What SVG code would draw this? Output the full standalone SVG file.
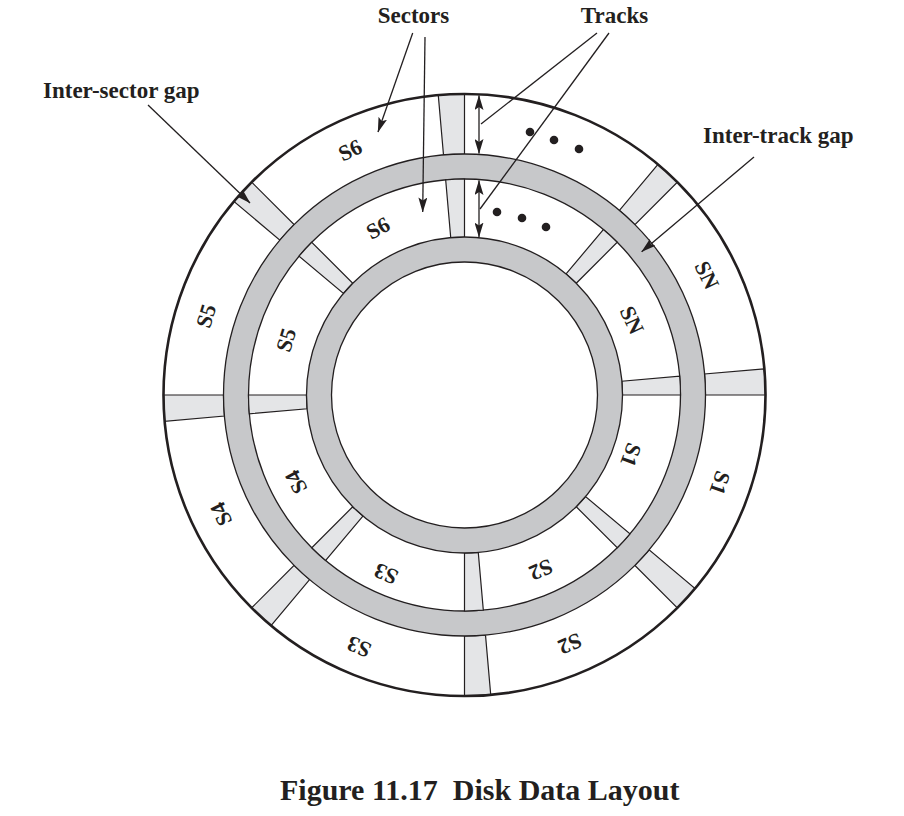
<svg xmlns="http://www.w3.org/2000/svg" width="904" height="816" viewBox="0 0 904 816">
<style>
.ln{stroke:#231f20;stroke-width:1.3;fill:none}
.gap{fill:#e4e5e7;stroke:#231f20;stroke-width:1.2}
.band{fill:none;stroke:#c7c8ca;stroke-width:25}
.edge{fill:none;stroke:#231f20;stroke-width:1.3}
.lbl{font-family:"Liberation Serif","Times New Roman",serif;font-weight:bold;font-size:23px;fill:#231f20}
.sl{font-family:"Liberation Serif","Times New Roman",serif;font-weight:bold;font-size:22px;fill:#231f20;text-anchor:middle}
.cap{font-family:"Liberation Serif","Times New Roman",serif;font-weight:bold;font-size:30px;fill:#231f20}
.dot{fill:#231f20}
</style>
<defs>
<marker id="ah" viewBox="0 0 15 9" refX="14.5" refY="4.5" markerWidth="15" markerHeight="9" markerUnits="userSpaceOnUse" orient="auto-start-reverse">
<path d="M0,0 L15,4.5 L0,9 L3,4.5 z" fill="#231f20"/>
</marker>
</defs>
<rect width="904" height="816" fill="#ffffff"/>
<g id="disk">
<circle cx="464.5" cy="395" r="301" fill="#ffffff" stroke="none"/>
<g id="outer-gaps">
<path class="gap" d="M764.35,368.76 A301,301 0 0 1 765.5,395 L705.5,395 A241,241 0 0 0 704.58,373.99 Z"/>
<path class="gap" d="M695.08,588.48 A301,301 0 0 1 677.34,607.84 L634.91,565.41 A241,241 0 0 0 649.12,549.91 Z"/>
<path class="gap" d="M490.74,694.85 A301,301 0 0 1 464.5,696 L464.5,636 A241,241 0 0 0 485.51,635.08 Z"/>
<path class="gap" d="M271.02,625.58 A301,301 0 0 1 251.66,607.84 L294.09,565.41 A241,241 0 0 0 309.59,579.62 Z"/>
<path class="gap" d="M164.65,421.24 A301,301 0 0 1 163.5,395 L223.5,395 A241,241 0 0 0 224.42,416.01 Z"/>
<path class="gap" d="M233.92,201.52 A301,301 0 0 1 251.66,182.16 L294.09,224.59 A241,241 0 0 0 279.88,240.09 Z"/>
<path class="gap" d="M438.26,95.15 A301,301 0 0 1 464.5,94 L464.5,154 A241,241 0 0 0 443.49,154.92 Z"/>
<path class="gap" d="M657.98,164.42 A301,301 0 0 1 677.34,182.16 L634.91,224.59 A241,241 0 0 0 619.41,210.38 Z"/>
</g>
<circle cx="464.5" cy="395" r="301" fill="none" stroke="#231f20" stroke-width="2.6"/>
<circle class="band" cx="464.5" cy="395" r="228.5"/>
<circle class="edge" cx="464.5" cy="395" r="241"/>
<circle class="edge" cx="464.5" cy="395" r="216"/>
<g id="inner-gaps">
<path class="gap" d="M679.68,376.17 A216,216 0 0 1 680.5,395 L622.5,395 A158,158 0 0 0 621.9,381.23 Z"/>
<path class="gap" d="M629.96,533.84 A216,216 0 0 1 617.24,547.74 L576.22,506.72 A158,158 0 0 0 585.53,496.56 Z"/>
<path class="gap" d="M483.33,610.18 A216,216 0 0 1 464.5,611 L464.5,553 A158,158 0 0 0 478.27,552.4 Z"/>
<path class="gap" d="M325.66,560.46 A216,216 0 0 1 311.76,547.74 L352.78,506.72 A158,158 0 0 0 362.94,516.03 Z"/>
<path class="gap" d="M249.32,413.83 A216,216 0 0 1 248.5,395 L306.5,395 A158,158 0 0 0 307.1,408.77 Z"/>
<path class="gap" d="M299.04,256.16 A216,216 0 0 1 311.76,242.26 L352.78,283.28 A158,158 0 0 0 343.47,293.44 Z"/>
<path class="gap" d="M445.67,179.82 A216,216 0 0 1 464.5,179 L464.5,237 A158,158 0 0 0 450.73,237.6 Z"/>
<path class="gap" d="M603.34,229.54 A216,216 0 0 1 617.24,242.26 L576.22,283.28 A158,158 0 0 0 566.06,273.97 Z"/>
</g>
<circle class="band" cx="464.5" cy="395" r="145.5"/>
<circle class="edge" cx="464.5" cy="395" r="158"/>
<circle class="edge" cx="464.5" cy="395" r="133"/>
</g>
<g id="sector-labels">
<text class="sl" transform="translate(350,150) rotate(-25)" x="0" y="7.5">S6</text>
<text class="sl" transform="translate(206,316) rotate(-73)" x="0" y="7.5">S5</text>
<text class="sl" transform="translate(221,514) rotate(-116)" x="0" y="7.5">S4</text>
<text class="sl" transform="translate(359,647) rotate(-157)" x="0" y="7.5">S3</text>
<text class="sl" transform="translate(570,644) rotate(157)" x="0" y="7.5">S2</text>
<text class="sl" transform="translate(720,483) rotate(109)" x="0" y="7.5">S1</text>
<text class="sl" transform="translate(707,275) rotate(64)" x="0" y="7.5">SN</text>
<text class="sl" transform="translate(378,228) rotate(-28)" x="0" y="7.5">S6</text>
<text class="sl" transform="translate(286,340) rotate(-73)" x="0" y="7.5">S5</text>
<text class="sl" transform="translate(296,482) rotate(-118)" x="0" y="7.5">S4</text>
<text class="sl" transform="translate(386,574) rotate(-155)" x="0" y="7.5">S3</text>
<text class="sl" transform="translate(541,570) rotate(157)" x="0" y="7.5">S2</text>
<text class="sl" transform="translate(631,455) rotate(110)" x="0" y="7.5">S1</text>
<text class="sl" transform="translate(632,320) rotate(65)" x="0" y="7.5">SN</text>
</g>
<g id="dots">
<circle class="dot" cx="530" cy="132" r="4.3"/>
<circle class="dot" cx="554" cy="140" r="4.3"/>
<circle class="dot" cx="579" cy="149" r="4.3"/>
<circle class="dot" cx="497" cy="212" r="4.3"/>
<circle class="dot" cx="522" cy="218" r="4.3"/>
<circle class="dot" cx="546" cy="227" r="4.3"/>
</g>
<g id="connectors">
<line class="ln" x1="412.7" y1="33" x2="378" y2="132" marker-end="url(#ah)"/>
<line class="ln" x1="425" y1="37" x2="422.7" y2="212" marker-end="url(#ah)"/>
<line class="ln" x1="148" y1="105" x2="250" y2="203" marker-end="url(#ah)"/>
<line class="ln" x1="754" y1="157" x2="641.7" y2="251.7" marker-end="url(#ah)"/>
<line class="ln" x1="597" y1="33" x2="481" y2="124"/>
<line class="ln" x1="609" y1="33" x2="480" y2="209"/>
<line class="ln" x1="479" y1="95.5" x2="479" y2="153.5" marker-start="url(#ah)" marker-end="url(#ah)"/>
<line class="ln" x1="479" y1="180.5" x2="479" y2="237" marker-start="url(#ah)" marker-end="url(#ah)"/>
</g>
<g id="labels">
<text class="lbl" x="413.5" y="23" text-anchor="middle">Sectors</text>
<text class="lbl" x="614.5" y="23" text-anchor="middle">Tracks</text>
<text class="lbl" x="43" y="98">Inter-sector gap</text>
<text class="lbl" x="703" y="143">Inter-track gap</text>
<text class="cap" x="280" y="800" xml:space="preserve">Figure 11.17  Disk Data Layout</text>
</g>
</svg>
